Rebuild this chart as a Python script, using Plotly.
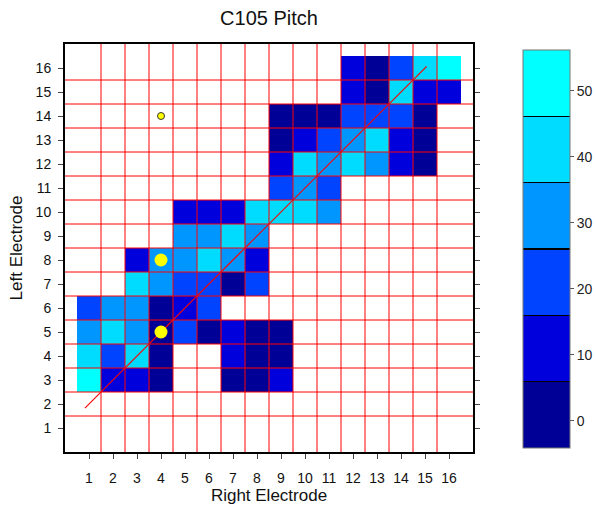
import plotly.graph_objects as go

# ---- data ----
electrodes = list(range(1, 17))          # 1..16 on both axes
tick_labels = [str(v) for v in electrodes]
N = None
# pitch values, rows = Left Electrode 1..16, columns = Right Electrode 1..16
pitch = [
    [N, N, N, N, N, N, N, N, N, N, N, N, N, N, N, N],           # 1
    [N, N, N, N, N, N, N, N, N, N, N, N, N, N, N, N],           # 2
    [55, 10, 11, 1, N, N, 0, -1, 9, N, N, N, N, N, N, N],       # 3
    [41, 20, 40, 2, N, N, 10, 0, -2, N, N, N, N, N, N, N],      # 4
    [30, 42, 31, 0, 21, -4.1, 11, 1, 0, N, N, N, N, N, N, N],   # 5
    [20, 29, 31, -1, 12, 19, N, N, N, N, N, N, N, N, N, N],     # 6
    [N, N, 40, 30, 21, 20, 1, 22, N, N, N, N, N, N, N, N],      # 7
    [N, N, 10, 32, 30, 41, 29, 12, N, N, N, N, N, N, N, N],     # 8
    [N, N, N, N, 30, 31, 40, 30, N, N, N, N, N, N, N, N],       # 9
    [N, N, N, N, 10, 11, 9, 40, 42, 41, 30, N, N, N, N, N],     # 10
    [N, N, N, N, N, N, N, N, 21, 31, 20, N, N, N, N, N],        # 11
    [N, N, N, N, N, N, N, N, 10, 41, 30, 40, 31, 10, 0, N],     # 12
    [N, N, N, N, N, N, N, N, 0, 11, 20, 32, 40, 12, 1, N],      # 13
    [N, N, N, N, N, N, N, N, -1, 0, 2, 20, 21, 22, 0, N],       # 14
    [N, N, N, N, N, N, N, N, N, N, N, 11, 0, 41, 10, 12],       # 15
    [N, N, N, N, N, N, N, N, N, N, N, 10, 1, 20, 40, 56.2],     # 16
]
z_min, z_max = -4.1, 56.2
level_colors = ["#000096", "#0000DC", "#0044FF", "#0096FF", "#00DCFF", "#00FFFF"]
cbar_ticks = [0, 10, 20, 30, 40, 50]

fit_x = [0.83, 15.07]
fit_y = [1.83, 16.07]

big_x, big_y = [4, 4], [8, 5]
small_x, small_y = [4], [14]

axis_range = [0, 17]

# ---- discrete colourscale with thin black separators ----
n = len(level_colors)
eps = 0.0013
cs = []
for i, c in enumerate(level_colors):
    a, b = i / n, (i + 1) / n
    lo = a + (eps if i > 0 else 0)
    hi = b - (eps if i < n - 1 else 0)
    if i > 0:
        cs.append([a - eps, "#000000"])
        cs.append([lo, "#000000"])
    cs.append([lo, c])
    cs.append([hi, c])
cs[0][0] = 0.0
cs[-1][0] = 1.0

fig = go.Figure()
fig.add_trace(go.Heatmap(
    x=electrodes, y=electrodes, z=pitch,
    zmin=z_min, zmax=z_max, colorscale=cs,
    hoverongaps=False,
    colorbar=dict(
        x=(522.7 - 65) / 408, xanchor="left", xpad=0,
        y=(452 - 448) / 408, yanchor="bottom", ypad=0,
        len=398, lenmode="pixels", thickness=47,
        outlinewidth=1, outlinecolor="#777777",
        tickvals=cbar_ticks, ticks="outside", ticklen=4,
        tickcolor="#555555",
        tickfont=dict(size=14, color="#222222"),
    ),
))

# red grid lines between cells, drawn above the heatmap
bounds = [v + 0.5 for v in electrodes[:-1]]
for b in bounds:
    fig.add_trace(go.Scatter(x=[b, b], y=axis_range, mode="lines",
                             line=dict(color="#FF0000", width=1),
                             hoverinfo="skip", showlegend=False))
    fig.add_trace(go.Scatter(x=axis_range, y=[b, b], mode="lines",
                             line=dict(color="#FF0000", width=1),
                             hoverinfo="skip", showlegend=False))

fig.add_trace(go.Scatter(x=fit_x, y=fit_y, mode="lines",
                         line=dict(color="#FF0000", width=1.2),
                         showlegend=False))
fig.add_trace(go.Scatter(x=big_x, y=big_y, mode="markers",
                         marker=dict(color="#FFFF00", size=13, line=dict(width=0)),
                         showlegend=False))
fig.add_trace(go.Scatter(x=small_x, y=small_y, mode="markers",
                         marker=dict(color="#FFFF00", size=7,
                                     line=dict(width=1, color="#333333")),
                         showlegend=False))

font_family = "Arial, Liberation Sans, sans-serif"
axis_common = dict(
    range=axis_range, tickvals=electrodes, ticktext=tick_labels,
    ticks="outside", ticklen=5, tickwidth=1, tickcolor="#444444",
    showline=True, linewidth=2, linecolor="#000000",
    showgrid=False, zeroline=False,
    tickfont=dict(size=14, color="#111111"),
)
fig.update_layout(
    width=596, height=508,
    margin=dict(l=65, r=123, t=44, b=56, autoexpand=False),
    paper_bgcolor="white", plot_bgcolor="white",
    font=dict(family=font_family, color="#111111"),
    title=dict(text="C105 Pitch", x=0.5, xref="paper", y=1 - 18 / 508,
               yref="container", yanchor="middle",
               font=dict(size=20, color="#111111")),
    xaxis=dict(**axis_common, mirror=True, ticklabelstandoff=7,
               title=dict(text="Right Electrode", font=dict(size=17), standoff=4)),
    yaxis=dict(**axis_common, mirror="ticks", ticklabelstandoff=4,
               title=dict(text="Left Electrode", font=dict(size=17), standoff=9)),
    showlegend=False,
)

fig.write_html(
    "out.html",
    config={"displayModeBar": False},
    post_script="document.body.style.margin='0';document.body.style.padding='0';",
)
